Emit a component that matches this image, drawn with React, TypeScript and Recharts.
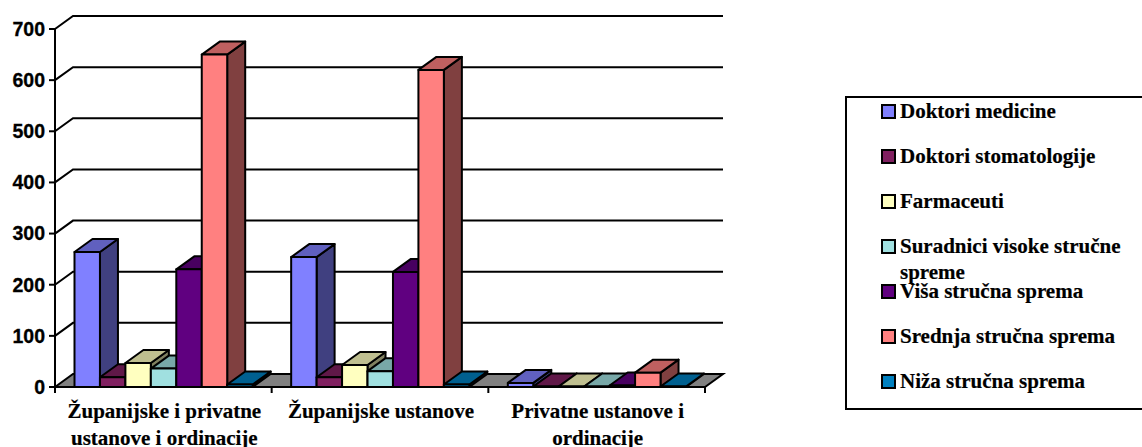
import React from "react";
import { BarChart, Bar, XAxis, YAxis, CartesianGrid, Legend } from "recharts";

const categories = [
  "Županijske i privatne\nustanove i ordinacije",
  "Županijske ustanove",
  "Privatne ustanove i\nordinacije",
];
const doktoriMedicine = [264, 254, 8];
const doktoriStomatologije = [19, 19, 1];
const farmaceuti = [47, 43, 1];
const suradnici = [36, 31, 1];
const visa = [230, 225, 3];
const srednja = [650, 620, 28];
const niza = [5, 5, 1];
const yTicks = [0, 100, 200, 300, 400, 500, 600, 700];

const seriesList = [
  { key: "med", name: "Doktori medicine", values: doktoriMedicine, color: "#8080FF" },
  { key: "sto", name: "Doktori stomatologije", values: doktoriStomatologije, color: "#802060" },
  { key: "far", name: "Farmaceuti", values: farmaceuti, color: "#FFFFC0" },
  { key: "sur", name: "Suradnici visoke stručne spreme", values: suradnici, color: "#A0E0E0" },
  { key: "vis", name: "Viša stručna sprema", values: visa, color: "#600080" },
  { key: "sre", name: "Srednja stručna sprema", values: srednja, color: "#FF8080" },
  { key: "niz", name: "Niža stručna sprema", values: niza, color: "#0080C0" },
];

const data = categories.map((c, i) => {
  const row: Record<string, string | number> = { category: c };
  seriesList.forEach((s) => (row[s.key] = s.values[i]));
  return row;
});

const DX = 18;
const DY = 13;
const SW = 2;
const WIDTH_FIX = 0.45;

function shade(hex: string, k: number) {
  const n = parseInt(hex.slice(1), 16);
  const c = [(n >> 16) & 255, (n >> 8) & 255, n & 255].map((v) => Math.round(v * k));
  return `rgb(${c[0]},${c[1]},${c[2]})`;
}

function Bar3D(props: any) {
  const { y, height, fill, seriesIndex } = props;
  const x = props.x + seriesIndex * WIDTH_FIX;
  const width = props.width + WIDTH_FIX;
  const r = x + width;
  const b = y + height;
  return (
    <g stroke="#000" strokeWidth={SW} strokeLinejoin="round">
      <polygon
        points={`${r},${y} ${r + DX},${y - DY} ${r + DX},${b - DY} ${r},${b}`}
        fill={shade(fill, 0.5)}
      />
      <polygon
        points={`${x},${y} ${x + DX},${y - DY} ${r + DX},${y - DY} ${r},${y}`}
        fill={shade(fill, 0.75)}
      />
      <rect x={x} y={y} width={width} height={height} fill={fill} />
    </g>
  );
}

function gridLine(props: any) {
  const { x1, x2, y1, index, key } = props;
  const isFloor = Math.abs(y1 - 387) < 1;
  return (
    <g key={key ?? index}>
      {isFloor && (
        <polygon
          points={`${x1},${y1} ${x1 + DX},${y1 - DY} ${x2 + DX},${y1 - DY} ${x2},${y1}`}
          fill="#808080"
          stroke="#000"
          strokeWidth={SW}
        />
      )}
      {!isFloor && (
        <polyline
          points={`${x1},${y1} ${x1 + DX},${y1 - DY} ${x2 + DX},${y1 - DY}`}
          fill="none"
          stroke="#000"
          strokeWidth={SW}
        />
      )}
    </g>
  );
}

function XTick(props: any) {
  const { x, y, payload, index } = props;
  const band = 650 / categories.length;
  const lines = String(payload.value).split("\n");
  const axisY = 387;
  return (
    <g>
      <line x1={x - band / 2} x2={x - band / 2} y1={axisY} y2={axisY + 6} stroke="#000" strokeWidth={SW} />
      {index === categories.length - 1 && (
        <line x1={x + band / 2} x2={x + band / 2} y1={axisY} y2={axisY + 6} stroke="#000" strokeWidth={SW} />
      )}
      <text
        x={x + 1}
        y={y}
        textAnchor="middle"
        fontFamily="'Liberation Serif', serif"
        fontWeight="bold"
        fontSize={21}
        fill="#000"
        stroke="#000"
        strokeWidth={0.2}
      >
        {lines.map((l, i) => (
          <tspan key={i} x={x + 1} y={axisY + 31 + i * 26.5}>
            {l}
          </tspan>
        ))}
      </text>
    </g>
  );
}

const legendCenters = [111, 156, 201, 246, 291, 336, 381];

function LegendBox(props: any) {
  const { payload } = props;
  return (
    <div
      style={{
        position: "relative",
        width: 297,
        height: 314,
        boxSizing: "border-box",
        borderTop: "2px solid #000",
        borderLeft: "2px solid #000",
        borderBottom: "2px solid #000",
        overflow: "hidden",
      }}
    >
      {(payload || []).map((p: any, i: number) => (
        <div key={p.value} style={{ position: "absolute", left: 0, top: legendCenters[i] - 96 - 2 - 13, width: 290 }}>
          <div
            style={{
              position: "absolute",
              left: 34,
              top: 6,
              width: 11,
              height: 11,
              border: "2px solid #000",
              background: p.color,
            }}
          />
          <div
            style={{
              position: "absolute",
              left: 53,
              top: 0,
              width: 232,
              fontFamily: "'Liberation Serif', serif",
              fontWeight: "bold",
              fontSize: 21,
              lineHeight: "26px",
              color: "#000",
              WebkitTextStroke: "0.2px #000",
            }}
          >
            {p.value}
          </div>
        </div>
      ))}
    </div>
  );
}

export default function App() {
  return (
    <div style={{ position: "absolute", left: 0, top: 0, width: 1142, height: 447, overflow: "hidden", background: "#fff" }}>
      <BarChart
        width={1142}
        height={447}
        data={data}
        margin={{ top: 29, right: 437, bottom: 0, left: 0 }}
        barCategoryGap="9%"
        barGap={0}
      >
        <CartesianGrid vertical={false} horizontal={gridLine as any} />
        <XAxis
          dataKey="category"
          height={60}
          interval={0}
          tick={<XTick />}
          tickLine={false}
          axisLine={{ stroke: "#000", strokeWidth: SW }}
        />
        <YAxis
          width={55}
          domain={[0, 700]}
          ticks={yTicks}
          interval={0}
          tickSize={6}
          tickMargin={4}
          tick={{ fill: "#000", stroke: "#000", strokeWidth: 0.3, fontFamily: "'Liberation Sans', sans-serif", fontWeight: "bold", fontSize: 19.5 }}
          tickLine={{ stroke: "#000", strokeWidth: SW }}
          axisLine={{ stroke: "#000", strokeWidth: SW }}
        />
        {seriesList.map((s, i) => (
          <Bar
            key={s.key}
            dataKey={s.key}
            name={s.name}
            fill={s.color}
            shape={<Bar3D seriesIndex={i} />}
            isAnimationActive={false}
          />
        ))}
        <Legend
          layout="vertical"
          align="center"
          verticalAlign="middle"
          itemSorter={null}
          content={<LegendBox />}
          wrapperStyle={{ left: 845, top: 96, width: 297, height: 314, margin: 0 }}
        />
      </BarChart>
    </div>
  );
}
